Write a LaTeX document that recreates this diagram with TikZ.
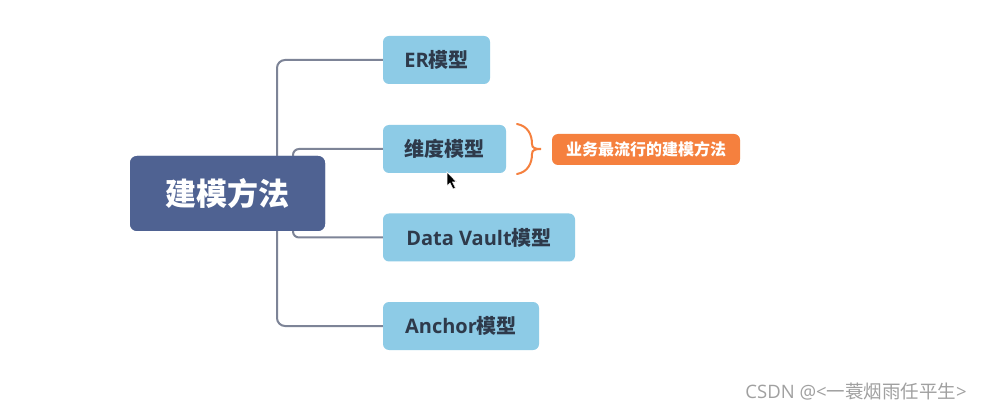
\documentclass[tikz,border=0pt]{standalone}
\usepackage{fontspec}
\setmainfont{Noto Sans CJK SC}
\newfontfamily\cjk{Noto Sans CJK SC}
\newfontfamily\latin{Open Sans}
\definecolor{mainblue}{HTML}{4F6292}
\definecolor{lightblue}{HTML}{8DCBE6}
\definecolor{txtdark}{HTML}{2E3A4B}
\definecolor{connc}{HTML}{7D8497}
\definecolor{orng}{HTML}{F5803E}
\definecolor{wmark}{HTML}{A0A0A0}
\tikzset{
  mainbox/.style={fill=mainblue, rounded corners=7pt, minimum width=195pt, minimum height=75pt, text=white, font=\fontsize{31}{34}\selectfont\bfseries, inner sep=0pt},
  subbox/.style={fill=lightblue, rounded corners=6pt, minimum height=48pt, text=txtdark, font=\fontsize{20}{23}\selectfont\bfseries, inner sep=0pt},
  notebox/.style={fill=orng, rounded corners=6pt, minimum width=188pt, minimum height=31pt, text=white, font=\fontsize{16}{19}\selectfont\bfseries, inner sep=0pt},
  conn/.style={draw=connc, line width=2pt, rounded corners=8pt},
  bracec/.style={draw=orng, line width=2pt, line cap=round},
}
\begin{document}
\begin{tikzpicture}[x=1pt,y=-1pt]
\useasboundingbox (0,0) rectangle (981,411);
\fill[white] (0,0) rectangle (981,411);
% nodes
\node[mainbox] (c) at (227.5,193.5) {建模方法};
\node[subbox, minimum width=107pt] (er) at (436.5,60) {{\latin\bfseries ER}模型};
\node[subbox, minimum width=123pt] (wd) at (444.5,149) {维度模型};
\node[subbox, minimum width=192pt] (dv) at (479,237.5) {{\latin\bfseries Data Vault}模型};
\node[subbox, minimum width=156pt] (an) at (461,326) {{\latin\bfseries Anchor}模型};
\node[notebox] (nt) at (646,149.5) {业务最流行的建模方法};
% connectors
\draw[conn] ([xshift=49.5pt]c.north) |- (er.west);
\draw[conn, rounded corners=6pt] ([xshift=65.5pt]c.north) |- (wd.west);
\draw[conn, rounded corners=6pt] ([xshift=65.5pt]c.south) |- (dv.west);
\draw[conn] ([xshift=49.5pt]c.south) |- (an.west);
\node[mainbox] at (c) {建模方法};
% brace
\coordinate (bt) at (541,149);
\draw[bracec] (517,124) .. controls (528,126) and (532,135) .. (532,144)
  .. controls (532,148) and (535,149) .. (bt)
  .. controls (535,149) and (532,150) .. (532,154)
  .. controls (532,163) and (528,172) .. (517,174);
% cursor
\filldraw[fill=black, draw=white, line width=0.6pt] (447,172) -- (447,186) -- (450,183) -- (453,189) -- (455.5,188) -- (452.5,182) -- (456.5,182) -- cycle;
% watermark
\node[text=wmark, font=\latin\fontsize{18.5}{21}\selectfont, anchor=east, inner sep=0pt] (wm) at (967,392) {CSDN @<{\cjk 一蓑烟雨任平生}>};
\end{tikzpicture}
\end{document}
